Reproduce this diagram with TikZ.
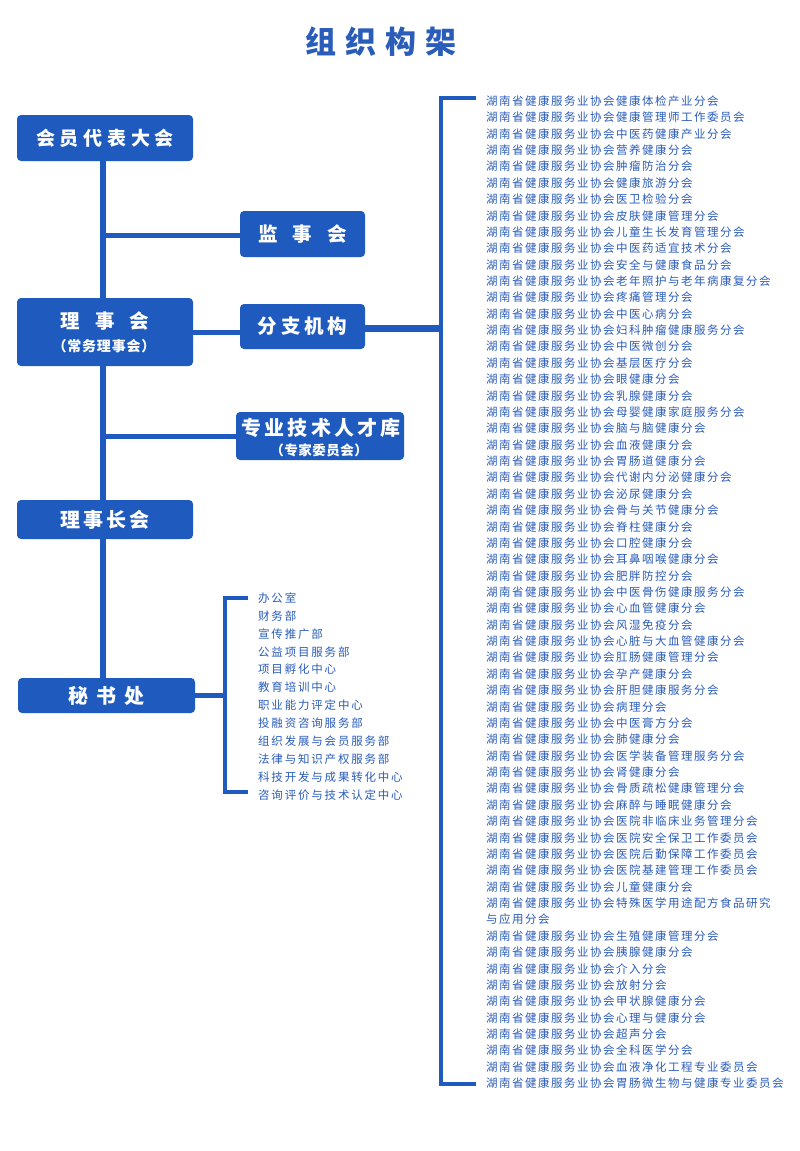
\documentclass[tikz,border=0pt]{standalone}
\usepackage{fontspec}
\setmainfont{Noto Sans CJK SC}
\definecolor{bblue}{HTML}{1F5BBF}
\definecolor{tblue}{HTML}{2A5CBA}
\pgfdeclarelayer{bglayer}
\pgfdeclarelayer{linelayer}
\pgfsetlayers{bglayer,linelayer,main}
\ExplSyntaxOn
\tl_new:N \l_spc_tl
\NewDocumentCommand \spc { O{1.5pt} m }
  {
    \tl_set:Nx \l_spc_tl {#2}
    \tl_map_inline:Nn \l_spc_tl { ##1 \hskip #1 \relax }
    \unskip
  }
\ExplSyntaxOff
\tikzset{
  box/.style={fill=bblue, rounded corners=4pt, inner sep=0pt},
  boxtxt/.style={text=white, inner sep=0pt},
  trunk/.style={draw=bblue, line width=6pt},
  branch/.style={draw=bblue, line width=5pt},
  brk/.style={draw=bblue, line width=4pt},
  item/.style={anchor=west, inner sep=0pt, text=tblue, font=\fontsize{11.5}{12}\selectfont},
}
\begin{document}
\begin{tikzpicture}[x=1pt,y=-1pt]
\begin{pgfonlayer}{bglayer}
\fill[white] (0,0) rectangle (800,1151);
\end{pgfonlayer}
\useasboundingbox (0,0) rectangle (800,1151);

% title
\node[text=tblue, inner sep=0pt, font=\bfseries\fontsize{31}{31}\selectfont] (title) at (381,42) {\spc[9pt]{组织构架}};

% boxes
\node[box, minimum width=176pt, minimum height=46pt] (m1) at (105,138) {};
\node[boxtxt, font=\bfseries\fontsize{19}{19}\selectfont] (m1t) at (m1.center) {\spc[4.8pt]{会员代表大会}};

\node[box, minimum width=125pt, minimum height=46pt] (jsh) at (302.5,234) {};
\node[boxtxt, font=\bfseries\fontsize{19.5}{19.5}\selectfont] (jsht) at (jsh.center) {\spc[15pt]{监事会}};

\node[box, minimum width=176pt, minimum height=68pt] (lsh) at (105,332) {};
\node[boxtxt, font=\bfseries\fontsize{19.5}{19.5}\selectfont] (lsha) at (105,321) {\spc[15pt]{理事会}};
\node[boxtxt, font=\bfseries\fontsize{14}{14}\selectfont] (lshb) at (104,346) {\spc[0.8pt]{（常务理事会）}};

\node[box, minimum width=125pt, minimum height=45pt] (fz) at (302.5,326.5) {};
\node[boxtxt, font=\bfseries\fontsize{19.5}{19.5}\selectfont] (fzt) at (fz.center) {\spc[4pt]{分支机构}};

\node[box, minimum width=168pt, minimum height=48pt] (zy) at (320,436) {};
\node[boxtxt, font=\bfseries\fontsize{20}{20}\selectfont] (zya) at (321,428) {\spc[3.3pt]{专业技术人才库}};
\node[boxtxt, font=\bfseries\fontsize{13.5}{13.5}\selectfont] (zyb) at (319,450) {\spc[0.5pt]{（专家委员会）}};

\node[box, minimum width=176pt, minimum height=39pt] (lszh) at (105,519.5) {};
\node[boxtxt, font=\bfseries\fontsize{20}{20}\selectfont] (lszht) at (lszh.center) {\spc[3pt]{理事长会}};

\node[box, minimum width=177pt, minimum height=35pt] (msc) at (106.5,695.5) {};
\node[boxtxt, font=\bfseries\fontsize{20}{20}\selectfont] (msct) at (msc.center) {\spc[8pt]{秘书处}};

% trunk and branches (behind boxes)
\coordinate (tA) at (103,161);
\coordinate (bj) at (441,328);
\coordinate (rb1) at (476,98);
\coordinate (rb2) at (476,1084);
\coordinate (sj) at (225,695);
\coordinate (sb1) at (248,598);
\coordinate (sb2) at (248,792);
\begin{pgfonlayer}{linelayer}
\draw[trunk] (m1.south -| tA) -- (msc.north -| tA);
\draw[branch] (104,235) -- (jsh.west |- 0,235);
\draw[branch] (lsh.east |- 0,332) -- (fz.west |- 0,332);
\draw[branch] (104,436) -- (zy.west);
\draw[draw=bblue, line width=7pt] (fz.east |- bj) -- (bj);
% right bracket
\draw[brk] (rb1) -- (441,98) -- (441,1084) -- (rb2);
% secretariat bracket
\draw[branch] (msc.east |- sj) -- (sj);
\draw[brk] (sb1) -- (225,598) -- (225,792) -- (sb2);
\end{pgfonlayer}

% secretariat list
\foreach \t [count=\i from 0] in {办公室,财务部,宣传推广部,公益项目服务部,项目孵化中心,教育培训中心,职业能力评定中心,投融资咨询服务部,组织发展与会员服务部,法律与知识产权服务部,科技开发与成果转化中心,咨询评价与技术认定中心}
  {\node[item] (s\i) at (258,{598+\i*17.9}) {\spc[1.8pt]{\t}};}

% branch list
\foreach \t [count=\i from 0] in {
湖南省健康服务业协会健康体检产业分会,
湖南省健康服务业协会健康管理师工作委员会,
湖南省健康服务业协会中医药健康产业分会,
湖南省健康服务业协会营养健康分会,
湖南省健康服务业协会肿瘤防治分会,
湖南省健康服务业协会健康旅游分会,
湖南省健康服务业协会医卫检验分会,
湖南省健康服务业协会皮肤健康管理分会,
湖南省健康服务业协会儿童生长发育管理分会,
湖南省健康服务业协会中医药适宜技术分会,
湖南省健康服务业协会安全与健康食品分会,
湖南省健康服务业协会老年照护与老年病康复分会,
湖南省健康服务业协会疼痛管理分会,
湖南省健康服务业协会中医心病分会,
湖南省健康服务业协会妇科肿瘤健康服务分会,
湖南省健康服务业协会中医微创分会,
湖南省健康服务业协会基层医疗分会,
湖南省健康服务业协会眼健康分会,
湖南省健康服务业协会乳腺健康分会,
湖南省健康服务业协会母婴健康家庭服务分会,
湖南省健康服务业协会脑与脑健康分会,
湖南省健康服务业协会血液健康分会,
湖南省健康服务业协会胃肠道健康分会,
湖南省健康服务业协会代谢内分泌健康分会,
湖南省健康服务业协会泌尿健康分会,
湖南省健康服务业协会骨与关节健康分会,
湖南省健康服务业协会脊柱健康分会,
湖南省健康服务业协会口腔健康分会,
湖南省健康服务业协会耳鼻咽喉健康分会,
湖南省健康服务业协会肥胖防控分会,
湖南省健康服务业协会中医骨伤健康服务分会,
湖南省健康服务业协会心血管健康分会,
湖南省健康服务业协会风湿免疫分会,
湖南省健康服务业协会心脏与大血管健康分会,
湖南省健康服务业协会肛肠健康管理分会,
湖南省健康服务业协会孕产健康分会,
湖南省健康服务业协会肝胆健康服务分会,
湖南省健康服务业协会病理分会,
湖南省健康服务业协会中医膏方分会,
湖南省健康服务业协会肺健康分会,
湖南省健康服务业协会医学装备管理服务分会,
湖南省健康服务业协会肾健康分会,
湖南省健康服务业协会骨质疏松健康管理分会,
湖南省健康服务业协会麻醉与睡眠健康分会,
湖南省健康服务业协会医院非临床业务管理分会,
湖南省健康服务业协会医院安全保卫工作委员会,
湖南省健康服务业协会医院后勤保障工作委员会,
湖南省健康服务业协会医院基建管理工作委员会,
湖南省健康服务业协会儿童健康分会,
湖南省健康服务业协会特殊医学用途配方食品研究,
与应用分会,
湖南省健康服务业协会生殖健康管理分会,
湖南省健康服务业协会胰腺健康分会,
湖南省健康服务业协会介入分会,
湖南省健康服务业协会放射分会,
湖南省健康服务业协会甲状腺健康分会,
湖南省健康服务业协会心理与健康分会,
湖南省健康服务业协会超声分会,
湖南省健康服务业协会全科医学分会,
湖南省健康服务业协会血液净化工程专业委员会,
湖南省健康服务业协会胃肠微生物与健康专业委员会}
  {\node[item] (r\i) at (486,{101+\i*16.37}) {\spc{\t}};}
\end{tikzpicture}
\end{document}
